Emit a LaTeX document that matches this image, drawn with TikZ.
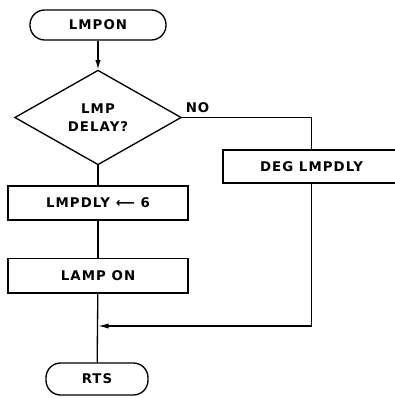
\documentclass[tikz,border=0pt]{standalone}
\usepackage{fontspec}
\setmainfont[LetterSpace=8]{DejaVu Sans}
\usetikzlibrary{shapes.geometric,arrows.meta}
\tikzset{
  terminal/.style={draw, rounded corners=11pt, inner sep=0pt, font=\bfseries},
  decision/.style={draw, diamond, inner sep=0pt, align=center, font=\bfseries},
  process/.style={draw, rectangle, inner sep=0pt, font=\bfseries},
}
\begin{document}
\begin{tikzpicture}[x=0.75pt, y=-0.75pt, line width=1pt]
  \useasboundingbox (0,0) rectangle (394,398);

  \node[terminal, minimum width=102pt, minimum height=22.5pt] (lmpon) at (98,25) {LMPON};
  \node[decision, minimum width=125pt, minimum height=71pt] (delay) at (98,117.5) {LMP\\[1pt]DELAY?};
  \node[process, minimum width=135pt, minimum height=25.5pt] (lmpdly) at (98,203) {LMPDLY ⟵ 6};
  \node[process, minimum width=135pt, minimum height=26pt] (lampon) at (98,275.5) {LAMP ON};
  \node[process, minimum width=133pt, minimum height=24.75pt] (deg) at (311.5,166.5) {DEG LMPDLY};
  \node[terminal, minimum width=76.5pt, minimum height=24pt] (rts) at (97,379) {RTS};
  \coordinate (merge) at (98,326);

  \draw[-{Latex[length=7pt,width=4pt]}] (lmpon) -- (delay);
  \draw (delay.south) -- (lmpdly);
  \draw (lmpdly) -- (lampon);
  \draw (lampon) -- (rts);
  \draw (delay.east) -- node[above, pos=0.12, font=\bfseries] {NO} (deg.north |- delay.east) -- (deg.north);
  \draw[-{Latex[length=8pt,width=4pt]}] (deg.south) |- (merge);
\end{tikzpicture}
\end{document}
